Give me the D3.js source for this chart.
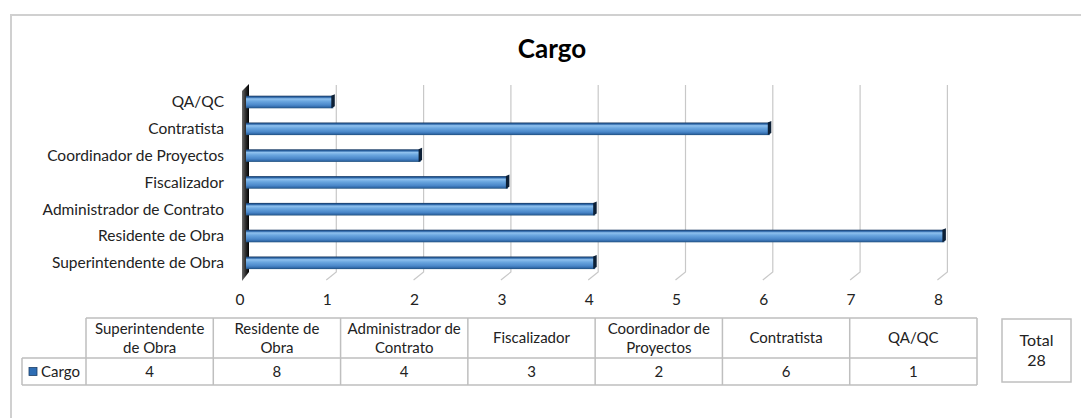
<!DOCTYPE html>
<html>
<head>
<meta charset="utf-8">
<script src="https://cdn.jsdelivr.net/npm/d3@7"></script>
<style>
  body { margin: 0; background: #fff; }
  svg { display: block; font-family: Lato, "Open Sans", sans-serif; }
</style>
</head>
<body>
<div id="chart"></div>
<script>
// data
const seriesName = "Cargo";
const categories = ["Superintendente de Obra", "Residente de Obra", "Administrador de Contrato",
  "Fiscalizador", "Coordinador de Proyectos", "Contratista", "QA/QC"];
const values = [4, 8, 4, 3, 2, 6, 1];
const xTicks = [0, 1, 2, 3, 4, 5, 6, 7, 8];
// wrapped header labels as shown in the data table
const tableLabels = [["Superintendente", "de Obra"], ["Residente de", "Obra"], ["Administrador de", "Contrato"],
  ["Fiscalizador"], ["Coordinador de", "Proyectos"], ["Contratista"], ["QA/QC"]];
const totalLabel = "Total";

const width = 1081, height = 418;
const svg = d3.select("#chart").append("svg")
  .attr("width", width).attr("height", height);

const defs = svg.append("defs");
const barGrad = defs.append("linearGradient").attr("id", "barGrad")
  .attr("x1", 0).attr("y1", 0).attr("x2", 0).attr("y2", 1);
[[0, "#17375e"], [0.12, "#2a64a6"], [0.25, "#8fc1ee"], [0.45, "#6aa6df"], [0.75, "#4a87c9"], [0.9, "#3169a8"], [1, "#1f4e79"]]
  .forEach(([o, c]) => barGrad.append("stop").attr("offset", o).attr("stop-color", c));
const wallGrad = defs.append("linearGradient").attr("id", "wallGrad")
  .attr("x1", 0).attr("y1", 0).attr("x2", 1).attr("y2", 0);
[[0, "#6a6a6a"], [0.5, "#303030"], [1, "#000"]]
  .forEach(([o, c]) => wallGrad.append("stop").attr("offset", o).attr("stop-color", c));

// outer frame
svg.append("path")
  .attr("d", `M11,${height} V15 H${width}`)
  .attr("fill", "none").attr("stroke", "#d0d0d0").attr("stroke-width", 2);

// title
svg.append("text")
  .attr("x", 552).attr("y", 58)
  .attr("text-anchor", "middle")
  .style("font-size", "26px").style("font-weight", "bold")
  .attr("fill", "#000")
  .text(seriesName);

// scales
const x = d3.scaleLinear().domain([0, 8]).range([246, 944.4]);
const y = d3.scaleBand().domain(categories).range([276.2, 88.6])
  .paddingInner(0.53).paddingOuter(0.265);

const depthX = 10, depthY = 8;
const backBottom = 272, gridTop = 85;

// gridlines (back plane + floor slant)
svg.append("g").selectAll("path")
  .data(xTicks.slice(1))
  .join("path")
  .attr("d", d => `M${x(d) + 3},${gridTop} V${backBottom} L${x(d) + 3 - depthX},${backBottom + depthY}`)
  .attr("fill", "none").attr("stroke", "#c8c8c8").attr("stroke-width", 1.2);

// side wall
svg.append("path")
  .attr("d", `M242,91 L249,84 L249,${backBottom} L242,${backBottom + depthY + 1} Z`)
  .attr("fill", "url(#wallGrad)");

// tick labels
svg.append("g").selectAll("text")
  .data(xTicks)
  .join("text")
  .attr("x", d => x(d) - 6)
  .attr("y", 305)
  .attr("text-anchor", "middle")
  .style("font-size", "15.5px").attr("fill", "#222")
  .text(d => d);

// category labels
svg.append("g").selectAll("text")
  .data(categories)
  .join("text")
  .attr("x", 224)
  .attr("y", d => y(d) + y.bandwidth() / 2)
  .attr("dy", "0.35em")
  .attr("text-anchor", "end")
  .style("font-size", "15.5px").attr("fill", "#222")
  .text(d => d);

// bars
const bars = svg.append("g").selectAll("g")
  .data(categories.map((c, i) => ({ c, v: values[i] })))
  .join("g");

bars.append("rect")
  .attr("x", x(0))
  .attr("y", d => y(d.c))
  .attr("width", d => x(d.v) - x(0))
  .attr("height", y.bandwidth())
  .attr("fill", "url(#barGrad)");

bars.append("path")
  .attr("d", d => {
    const x1 = x(d.v), y0 = y(d.c), h = y.bandwidth();
    return `M${x1 - 2},${y0} L${x1 + 1.5},${y0 - 1.5} L${x1 + 1.5},${y0 + h - 2} L${x1 - 2},${y0 + h} Z`;
  })
  .attr("fill", "#0d2036");

// data table
const table = svg.append("g");
const colX = d3.scaleBand().domain(categories).range([86, 977]);
const tTop = 318, tMid = 358, tBot = 385;
const gridStroke = "#bfbfbf";

table.append("g").selectAll("text")
  .data(categories)
  .join("text")
  .attr("text-anchor", "middle")
  .style("font-size", "15px").attr("fill", "#222")
  .each(function (d, i) {
    const lines = tableLabels[i];
    const cx = colX(d) + colX.bandwidth() / 2;
    const startY = lines.length === 1 ? (tTop + tMid) / 2 : (tTop + tMid) / 2 - 9.5;
    d3.select(this).selectAll("tspan")
      .data(lines)
      .join("tspan")
      .attr("x", cx)
      .attr("y", (l, j) => startY + j * 19)
      .attr("dy", "0.35em")
      .text(l => l);
  });

table.append("g").selectAll("text")
  .data(categories.map((c, i) => ({ c, v: values[i] })))
  .join("text")
  .attr("x", d => colX(d.c) + colX.bandwidth() / 2)
  .attr("y", (tMid + tBot) / 2)
  .attr("dy", "0.35em")
  .attr("text-anchor", "middle")
  .style("font-size", "15px").attr("fill", "#222")
  .text(d => d.v);

// table lines
const lines = [
  `M86,${tTop} H977`, `M22,${tMid} H977`, `M22,${tBot} H977`,
  `M22,${tMid} V${tBot}`
];
categories.forEach(c => lines.push(`M${colX(c)},${tTop} V${tBot}`));
lines.push(`M977,${tTop} V${tBot}`);
table.append("path")
  .attr("d", lines.join(" "))
  .attr("fill", "none").attr("stroke", gridStroke).attr("stroke-width", 1.5);

// legend key in table
table.append("rect")
  .attr("x", 29).attr("y", (tMid + tBot) / 2 - 4)
  .attr("width", 8).attr("height", 8)
  .attr("fill", "#2e6db4").attr("stroke", "#1c3f66").attr("stroke-width", 0.8);
table.append("text")
  .attr("x", 41).attr("y", (tMid + tBot) / 2)
  .attr("dy", "0.35em")
  .style("font-size", "15px").attr("fill", "#222")
  .text(seriesName);

// total box
const total = d3.sum(values);
table.append("rect")
  .attr("x", 1002).attr("y", 319).attr("width", 69).attr("height", 63)
  .attr("fill", "#fff").attr("stroke", gridStroke).attr("stroke-width", 1.5);
table.append("text")
  .attr("text-anchor", "middle")
  .style("font-size", "16px").attr("fill", "#222")
  .selectAll("tspan")
  .data([totalLabel, total])
  .join("tspan")
  .attr("x", 1036.5)
  .attr("y", (d, i) => 340 + i * 20)
  .attr("dy", "0.35em")
  .text(d => d);
</script>
</body>
</html>
